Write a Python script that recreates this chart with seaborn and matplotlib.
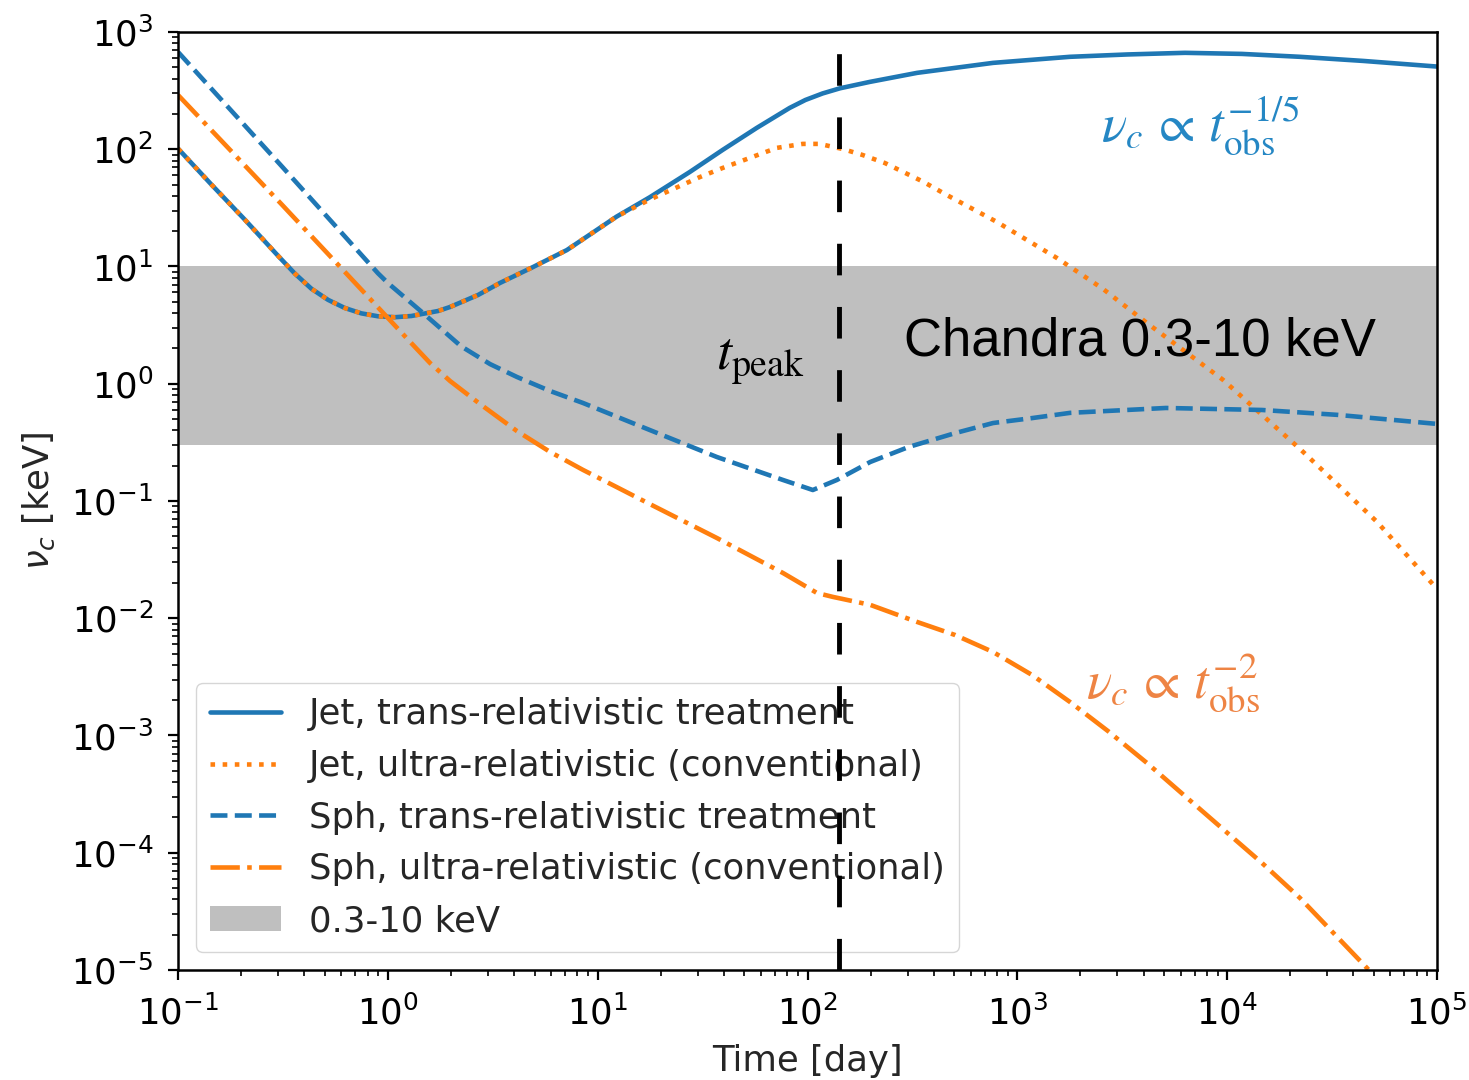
import numpy as np
import pandas as pd
import matplotlib
matplotlib.use("Agg")
import matplotlib.pyplot as plt
from matplotlib.ticker import LogLocator, NullFormatter
import seaborn as sns

# Observer time [day] and cooling frequency nu_c [keV] for each model
t_jet_trans = [0.1, 0.144, 0.208, 0.300, 0.360, 0.432, 0.519, 0.624, 0.748, 0.897,
               1.079, 1.294, 1.734, 1.977, 2.69, 3.42, 4.92, 7.13, 12.3, 17.7,
               27.5, 39.4, 57.3, 82.2, 97.7, 118, 143, 198, 333, 766,
               1782, 3350, 6295, 11750, 22230, 44670, 100000]
nu_jet_trans = [101.2, 50.1, 25.1, 12.3, 8.71, 6.46, 5.19, 4.42, 3.98, 3.76,
                3.69, 3.78, 4.17, 4.51, 5.71, 7.23, 9.89, 13.8, 26.6, 38.9,
                64.0, 98.6, 152, 225, 263, 299, 331, 375, 448, 545,
                614, 643, 664, 650, 614, 566, 507]

t_jet_ultra = [0.1, 0.144, 0.208, 0.300, 0.360, 0.432, 0.519, 0.624, 0.748, 0.897,
               1.079, 1.294, 1.734, 1.977, 2.69, 3.42, 4.92, 7.13, 12.3, 17.7,
               30.7, 39.4, 53.1, 71.3, 94.8, 114, 147, 183, 234, 356,
               461, 798, 1545, 2559, 4150, 9550, 22230, 51760, 100000]
nu_jet_ultra = [101.2, 50.1, 25.1, 12.3, 8.71, 6.46, 5.19, 4.42, 3.98, 3.76,
                3.69, 3.78, 4.17, 4.51, 5.71, 7.23, 9.89, 13.8, 26.6, 37.2,
                57.9, 69.2, 84.3, 102.6, 111, 111, 100.5, 89.3, 76.2, 52.8,
                40.7, 24.0, 11.8, 6.44, 3.29, 1.08, 0.278, 0.0664, 0.0178]

t_sph_trans = [0.1, 0.316, 0.897, 1.0, 1.47, 2.23, 3.07, 4.13, 5.93, 8.51,
               17.7, 37.0, 76.4, 106, 138, 199, 304, 505, 766, 1175,
               1782, 5105, 14660, 33730, 100000]
nu_sph_trans = [675, 69.8, 8.75, 7.23, 4.01, 2.09, 1.47, 1.14, 0.867, 0.685,
                0.403, 0.237, 0.151, 0.124, 0.151, 0.215, 0.289, 0.379, 0.462, 0.509,
                0.564, 0.621, 0.597, 0.542, 0.454]

t_sph_ultra = [0.1, 0.317, 1.0, 1.29, 1.59, 1.98, 2.75, 4.12, 5.93, 8.51,
               12.3, 17.7, 37.0, 76.4, 111, 132, 199, 333, 505, 766,
               1175, 1782, 2704, 4150, 6295, 9550, 14660, 22230, 47320, 100000]
nu_sph_ultra = [290, 32.8, 3.64, 2.23, 1.50, 1.054, 0.671, 0.395, 0.262, 0.184,
                0.1315, 0.0942, 0.0483, 0.0243, 0.0164, 0.0152, 0.0130, 0.00929, 0.00719, 0.00515,
                0.00328, 0.00193, 0.00109, 5.82e-4, 3.04e-4, 1.59e-4, 8.17e-5, 4.11e-5, 1.0e-5, 2.48e-6]

labels = ["Jet, trans-relativistic treatment",
          "Jet, ultra-relativistic (conventional)",
          "Sph, trans-relativistic treatment",
          "Sph, ultra-relativistic (conventional)"]
band_lo, band_hi = 0.3, 10.0
band_label = "0.3-10 keV"
t_peak = 142

x_ticks = [1e-1, 1e0, 1e1, 1e2, 1e3, 1e4, 1e5]
y_ticks = [1e-5, 1e-4, 1e-3, 1e-2, 1e-1, 1e0, 1e1, 1e2, 1e3]

sns.set_style("ticks", rc={"axes.edgecolor": "black",
                           "xtick.color": "black", "ytick.color": "black"})
plt.rcParams["font.family"] = ["DejaVu Sans"]

fig = plt.figure(figsize=(14.69, 10.8), dpi=100)
ax = fig.add_axes([0.1212, 0.1019, 0.857, 0.8685])

blue, orange = "#1f77b4", "#ff7f0e"
series = [
    (t_jet_trans, nu_jet_trans, blue, "-"),
    (t_jet_ultra, nu_jet_ultra, orange, ":"),
    (t_sph_trans, nu_sph_trans, blue, "--"),
    (t_sph_ultra, nu_sph_ultra, orange, "-."),
]
for (t, nu, col, ls), lab in zip(series, labels):
    df = pd.DataFrame({"t": t, "nu": nu})
    sns.lineplot(data=df, x="t", y="nu", ax=ax, color=col, linestyle=ls,
                 lw=3.3, label=lab, estimator=None, sort=False)

ax.axhspan(band_lo, band_hi, color="#bfbfbf", lw=0, label=band_label, zorder=0)
ax.axvline(t_peak, color="black", lw=3.5, linestyle=(0, (6.5, 6.5)), zorder=10)

ax.set_xscale("log")
ax.set_yscale("log")
ax.set_xlim(x_ticks[0], x_ticks[-1])
ax.set_ylim(y_ticks[0], y_ticks[-1])
ax.xaxis.set_major_locator(LogLocator(base=10, numticks=20))
ax.yaxis.set_major_locator(LogLocator(base=10, numticks=20))
for axis in (ax.xaxis, ax.yaxis):
    axis.set_minor_locator(LogLocator(base=10, subs=np.arange(2, 10), numticks=100))
    axis.set_minor_formatter(NullFormatter())

for s in ax.spines.values():
    s.set_linewidth(1.8)
    s.set_color("black")
ax.tick_params(which="major", length=7, width=1.6, labelsize=25.5, pad=11,
               direction="out")
ax.tick_params(which="minor", length=4, width=1.2, direction="out")

ax.set_xlabel("Time [day]", fontsize=25.5, labelpad=9)
ax.set_ylabel(r"$\nu_c$ [keV]", fontsize=25.5, labelpad=10)

ax.text(3845, 2.27, "Chandra 0.3-10 keV", fontsize=38, family="Liberation Sans",
        ha="center", va="center", color="black")
ax.text(10**1.774, 10**0.203, r"$t_{\rm peak}$", fontsize=39, math_fontfamily="stix",
        ha="center", va="center", color="black")
ax.text(10**3.872, 10**2.206, r"$\nu_c\,\propto\,t_{\rm obs}^{-1/5}$", fontsize=38,
        math_fontfamily="stix", ha="center", va="center", color="#2587c4")
ax.text(10**3.743, 10**-2.546, r"$\nu_c\,\propto\,t_{\rm obs}^{-2}$", fontsize=38,
        math_fontfamily="stix", ha="center", va="center", color="#ee8444")

leg = ax.legend(loc="lower left", fontsize=25.5, labelspacing=0.5,
                handlelength=2.0, frameon=True)
leg.get_frame().set_edgecolor("0.8")

fig.savefig("out.png", dpi=100)
